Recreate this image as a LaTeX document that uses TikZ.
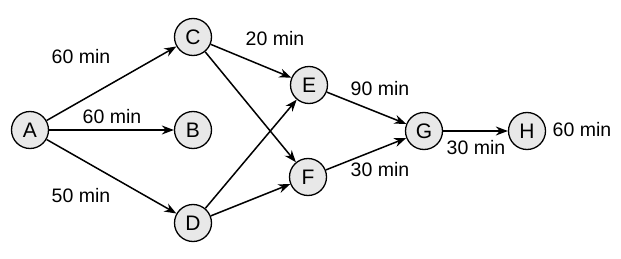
\documentclass[tikz,border=0pt]{standalone}
\usepackage{fontspec}
\setmainfont{Liberation Sans}
\usetikzlibrary{arrows.meta}
\begin{document}
\begin{tikzpicture}[x=1pt,y=-1pt,
  vtx/.style={circle,draw=black,line width=1.3pt,fill=gray!18,minimum size=37pt,inner sep=0pt,font=\fontsize{21}{24}\selectfont},
  lbl/.style={font=\fontsize{19.5}{23}\selectfont,inner sep=0pt},
  edge/.style={draw,line width=1.5pt,-{Stealth[length=12pt,width=9pt]}}]
\useasboundingbox (0,0) rectangle (621,259);
\node[vtx] (A) at (30,130) {A};
\node[vtx] (B) at (193,130) {B};
\node[vtx] (C) at (193,37) {C};
\node[vtx] (D) at (193,223) {D};
\node[vtx] (E) at (309,85) {E};
\node[vtx] (F) at (308,177) {F};
\node[vtx] (G) at (424,131) {G};
\node[vtx] (H) at (527,131) {H};
\path[edge] (A) -- (C);
\path[edge] (A) -- (B);
\path[edge] (A) -- (D);
\path[edge] (C) -- (E);
\path[edge] (C) -- (F);
\path[edge] (D) -- (E);
\path[edge] (D) -- (F);
\path[edge] (E) -- (G);
\path[edge] (F) -- (G);
\path[edge] (G) -- (H);
\node[lbl] (l1) at (81,57) {60 min};
\node[lbl] (l2) at (112,117) {60 min};
\node[lbl] (l3) at (81,196) {50 min};
\node[lbl] (l4) at (275,39) {20 min};
\node[lbl] (l5) at (380,89) {90 min};
\node[lbl] (l6) at (380,170) {30 min};
\node[lbl] (l7) at (476,148) {30 min};
\node[lbl] (l8) at (582,130) {60 min};
\end{tikzpicture}
\end{document}
